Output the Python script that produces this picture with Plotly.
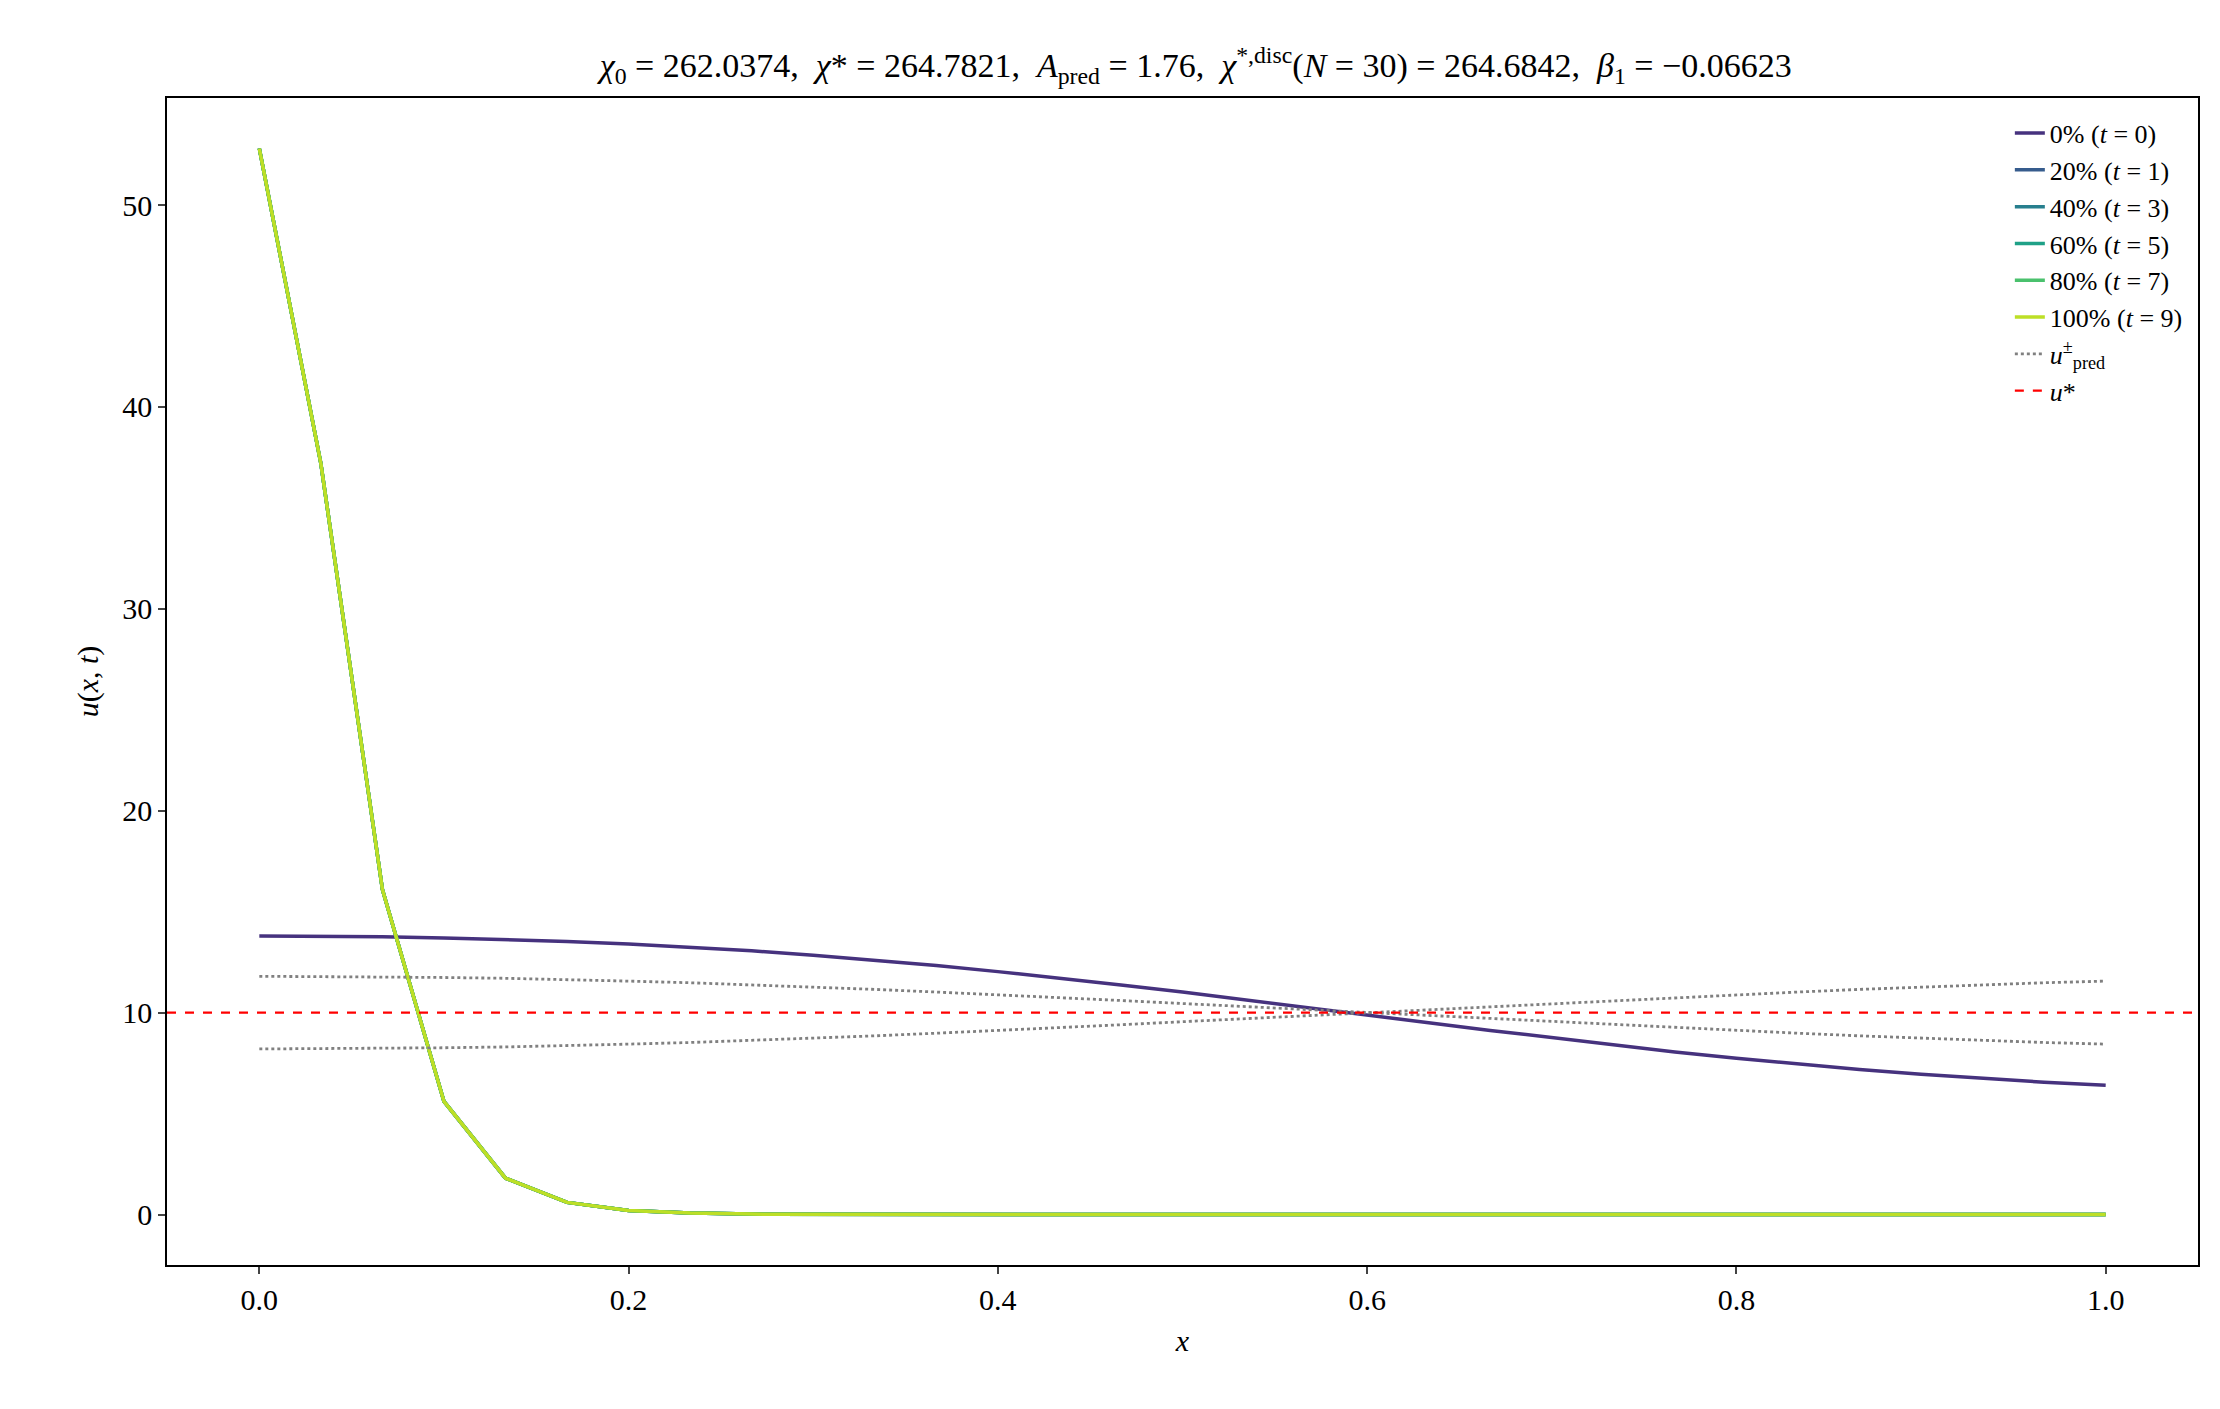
import plotly.graph_objects as go

x = [i / 30 for i in range(31)]

u_initial = [13.80, 13.79, 13.76, 13.70, 13.62, 13.52, 13.40, 13.24, 13.06, 12.84,
             12.60, 12.33, 12.03, 11.71, 11.37, 11.02, 10.65, 10.27, 9.89, 9.50,
             9.12, 8.75, 8.39, 8.05, 7.74, 7.45, 7.18, 6.95, 6.74, 6.55, 6.40]
u_final = [52.8, 37.2, 16.1, 5.6, 1.8, 0.6, 0.2, 0.07, 0.02, 0.01,
           0.0, 0.0, 0.0, 0.0, 0.0, 0.0, 0.0, 0.0, 0.0, 0.0,
           0.0, 0.0, 0.0, 0.0, 0.0, 0.0, 0.0, 0.0, 0.0, 0.0, 0.0]
u_pred_plus = [11.80, 11.79, 11.78, 11.74, 11.70, 11.64, 11.56, 11.48, 11.38, 11.27,
               11.15, 11.02, 10.89, 10.75, 10.60, 10.45, 10.30, 10.15, 10.00, 9.85,
               9.70, 9.55, 9.40, 9.25, 9.11, 8.98, 8.85, 8.73, 8.62, 8.52, 8.44]
u_pred_minus = [8.20, 8.21, 8.22, 8.26, 8.30, 8.36, 8.44, 8.52, 8.62, 8.73,
                8.85, 8.98, 9.11, 9.25, 9.40, 9.55, 9.70, 9.85, 10.00, 10.15,
                10.30, 10.45, 10.60, 10.75, 10.89, 11.02, 11.15, 11.27, 11.38, 11.48, 11.56]
u_star = 10.0

labels = ["0% (<i>t</i> = 0)", "20% (<i>t</i> = 1)", "40% (<i>t</i> = 3)",
          "60% (<i>t</i> = 5)", "80% (<i>t</i> = 7)", "100% (<i>t</i> = 9)"]
colors = ["#46327e", "#365c8d", "#277f8e", "#1fa187", "#4ac16d", "#bddf26"]
profiles = [u_initial, u_final, u_final, u_final, u_final, u_final]

fig = go.Figure()
for lab, col, u in zip(labels, colors, profiles):
    fig.add_trace(go.Scatter(x=x, y=u, mode="lines", name=lab,
                             line=dict(color=col, width=3.5)))

fig.add_trace(go.Scatter(x=x, y=u_pred_plus, mode="lines", name="<i>u</i><sup>±</sup><sub>pred</sub>",
                         line=dict(color="gray", width=2.8, dash="dot")))
fig.add_trace(go.Scatter(x=x, y=u_pred_minus, mode="lines", showlegend=False,
                         line=dict(color="gray", width=2.8, dash="dot")))
fig.add_trace(go.Scatter(x=[-0.05, 1.05], y=[u_star, u_star], mode="lines", name="<i>u</i>*",
                         line=dict(color="red", width=2.2, dash="dash")))

axis = dict(showgrid=False, zeroline=False, showline=True, mirror=True, linecolor="black",
            linewidth=1.5, ticks="outside", ticklen=7, tickwidth=1.5,
            tickfont=dict(size=30))
fig.update_layout(
    width=2220, height=1409,
    paper_bgcolor="white", plot_bgcolor="white",
    font=dict(family="Liberation Serif, DejaVu Serif, serif", color="black"),
    margin=dict(l=159, r=30, t=90, b=152),
    title=dict(text="<i>χ</i><sub>0</sub> = 262.0374,  <i>χ</i>* = 264.7821,  <i>A</i><sub>pred</sub> = 1.76,  "
                    "<i>χ</i><sup>*,disc</sup>(<i>N</i> = 30) = 264.6842,  <i>β</i><sub>1</sub> = −0.06623",
               x=0.535, xanchor="center", y=0.968, font=dict(size=34)),
    xaxis=dict(axis, range=[-0.05, 1.05], tickvals=[0, 0.2, 0.4, 0.6, 0.8, 1.0],
               ticktext=["0.0", "0.2", "0.4", "0.6", "0.8", "1.0"],
               title=dict(text="<i>x</i>", font=dict(size=30))),
    yaxis=dict(axis, range=[-2.5, 55.3], tickvals=[0, 10, 20, 30, 40, 50],
               title=dict(text="<i>u</i>(<i>x</i>, <i>t</i>)", font=dict(size=30))),
    legend=dict(x=0.995, y=0.99, xanchor="right", yanchor="top", bgcolor="rgba(255,255,255,0.8)",
                font=dict(size=26), tracegroupgap=6),
)

fig.write_html("out.html")
